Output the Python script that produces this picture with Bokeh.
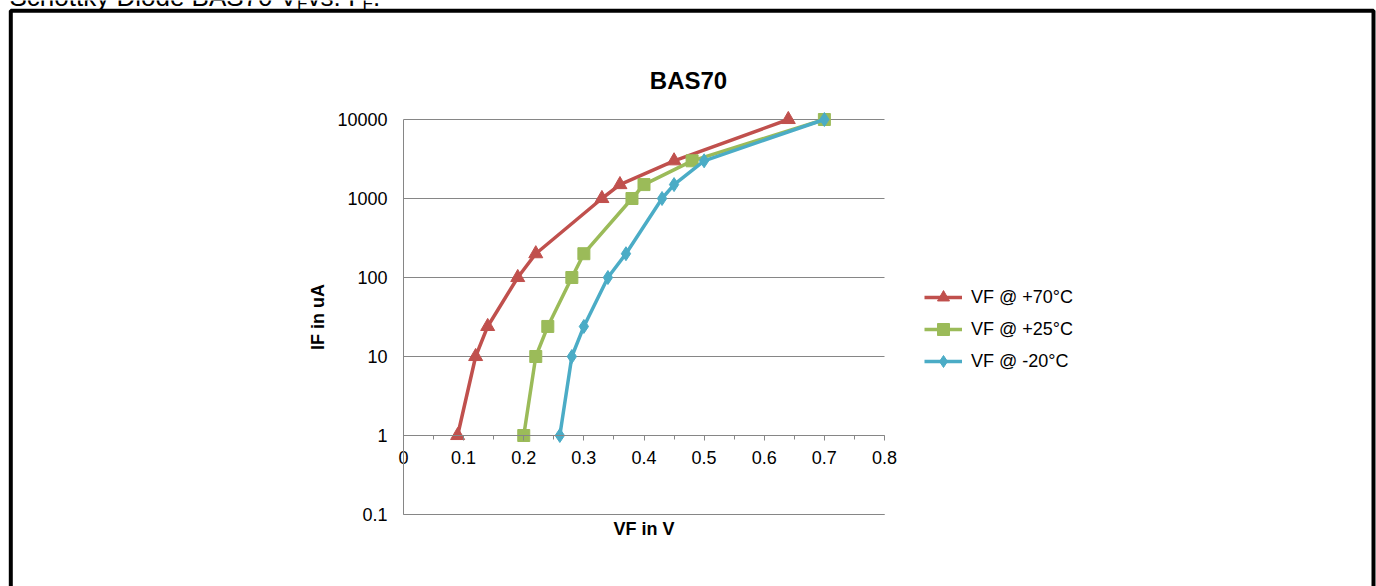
from bokeh.plotting import figure
from bokeh.models import (Range1d, FixedTicker, Label, BoxAnnotation, LinearAxis,
                          LogAxis)
from bokeh.embed import file_html
from bokeh.resources import INLINE

# ---- data ----
if_ua = [1, 10, 24, 100, 200, 1000, 1500, 3000, 10000]
vf_p70 = [0.09, 0.12, 0.14, 0.19, 0.22, 0.33, 0.36, 0.45, 0.64]
vf_p25 = [0.20, 0.22, 0.24, 0.28, 0.30, 0.38, 0.40, 0.48, 0.70]
vf_m20 = [0.26, 0.28, 0.30, 0.34, 0.37, 0.43, 0.45, 0.50, 0.70]
series_names = ["VF @ +70°C", "VF @ +25°C", "VF @ -20°C"]
series_colors = ["#C0504D", "#9BBB59", "#4BACC6"]
series_markers = ["triangle", "square", "diamond"]
series_sizes = [14, 12, 14]

x_ticks = [0.0, 0.1, 0.2, 0.3, 0.4, 0.5, 0.6, 0.7, 0.8]
x_tick_labels = ["0", "0.1", "0.2", "0.3", "0.4", "0.5", "0.6", "0.7", "0.8"]
x_minor_ticks = [0.05, 0.15, 0.25, 0.35, 0.45, 0.55, 0.65, 0.75]
y_ticks = [0.1, 1, 10, 100, 1000, 10000]
y_tick_labels = ["0.1", "1", "10", "100", "1000", "10000"]
x_lo, x_hi = 0.0, 0.8
y_lo, y_hi = 0.1, 10000
x_cross = 1  # x axis crosses the value axis at IF = 1

# ---- layout (pixels) ----
W, H = 1376, 586
PL, PR, PT, PB = 403, 884, 119, 514
FONT = "Liberation Sans"
GRID = "#868686"

xpp = (x_hi - x_lo) / (PR - PL)
dpp = 5.0 / (PB - PT)
x_range = Range1d(x_lo - PL * xpp, x_hi + (W - PR) * xpp)
y_range = Range1d(10 ** (-1 - (H - PB) * dpp), 10 ** (4 + PT * dpp))

p = figure(width=W, height=H, output_backend="svg", toolbar_location=None,
           y_axis_type="log", x_range=x_range, y_range=y_range,
           x_axis_location=None, y_axis_location=None,
           min_border=0, min_border_left=0, min_border_right=0,
           min_border_top=0, min_border_bottom=0)
p.title.visible = False
p.outline_line_color = None
p.background_fill_color = "white"
p.border_fill_color = "white"
p.xgrid.visible = False
p.ygrid.visible = False

# horizontal gridlines of the plot area
p.segment(x0=[x_lo] * len(y_ticks), x1=[x_hi] * len(y_ticks), y0=y_ticks, y1=y_ticks,
          line_color=GRID, line_width=1)

# x axis crossing at IF = 1
xa = LinearAxis(fixed_location=x_cross, bounds=(x_lo, x_hi),
                ticker=FixedTicker(ticks=x_ticks, minor_ticks=x_minor_ticks))
xa.major_label_overrides = {t: l for t, l in zip(x_ticks, x_tick_labels)}
xa.axis_line_color = GRID
xa.major_tick_line_color = GRID
xa.minor_tick_line_color = GRID
xa.major_tick_in = 0
xa.major_tick_out = 5
xa.minor_tick_in = 0
xa.minor_tick_out = 4
xa.major_label_standoff = 10
xa.major_label_text_font = FONT
xa.major_label_text_font_size = "18px"
xa.major_label_text_color = "black"
p.add_layout(xa, "below")

# bottom edge of the plot area, carrying the axis title
xb = LinearAxis(fixed_location=y_lo, bounds=(x_lo, x_hi),
                ticker=FixedTicker(ticks=[], minor_ticks=[]))
xb.axis_line_color = GRID
xb.major_tick_line_color = None
xb.minor_tick_line_color = None
xb.major_label_text_font_size = "0px"
xb.axis_label = "VF in V"
xb.axis_label_standoff = 4
xb.axis_label_text_font = FONT
xb.axis_label_text_font_size = "18px"
xb.axis_label_text_font_style = "bold"
xb.axis_label_text_color = "black"
p.add_layout(xb, "below")

# y axis
ya = LogAxis(fixed_location=x_lo, bounds=(y_lo, y_hi),
             ticker=FixedTicker(ticks=y_ticks, minor_ticks=[]))
ya.major_label_overrides = {t: l for t, l in zip(y_ticks, y_tick_labels)}
ya.axis_line_color = GRID
ya.major_tick_in = 0
ya.major_tick_out = 0
ya.minor_tick_line_color = None
ya.major_label_standoff = 16
ya.major_label_text_font = FONT
ya.major_label_text_font_size = "18px"
ya.major_label_text_color = "black"
ya.axis_label = "IF in uA"
ya.axis_label_text_font = FONT
ya.axis_label_text_font_size = "18px"
ya.axis_label_text_font_style = "bold"
ya.axis_label_text_color = "black"
ya.axis_label_standoff = 6
p.add_layout(ya, "left")

# series
for xs, name, col, mk, sz in zip([vf_p70, vf_p25, vf_m20], series_names,
                                 series_colors, series_markers, series_sizes):
    p.line(xs, if_ua, line_color=col, line_width=3.5, legend_label=name)
    p.scatter(xs, if_ua, marker=mk, size=sz, fill_color=col, line_color=col,
              legend_label=name)

lg = p.legend[0]
lg.location = (924, H - 376)
lg.border_line_color = None
lg.background_fill_alpha = 0
lg.padding = 0
lg.margin = 0
lg.spacing = 2
lg.glyph_width = 38
lg.glyph_height = 30
lg.label_height = 30
lg.label_standoff = 9
lg.label_text_font = FONT
lg.label_text_font_size = "18px"
lg.label_text_color = "black"

# chart title
p.add_layout(Label(x=688, y=79.5, x_units="canvas", y_units="canvas", text="BAS70",
                   text_align="center", text_baseline="alphabetic",
                   text_font=FONT, text_font_size="24px", text_font_style="bold",
                   text_color="black"))

# caption above the chart box (mostly cut off at the top)
cap_parts = [("Schottky Diode BAS70 V", 9, -4.0, "26px"), ("F", 296.6, 3.0, "17px"),
             (" vs. I", 307.0, -4.0, "26px"), ("F", 362.0, 3.0, "17px"),
             (".", 372.4, -4.0, "26px")]
for txt, cx, cy, fs in cap_parts:
    p.add_layout(Label(x=cx, y=cy, x_units="canvas", y_units="canvas", text=txt,
                       text_align="left", text_baseline="alphabetic",
                       text_font=FONT, text_font_size=fs, text_color="black"))

# outer chart box
p.add_layout(BoxAnnotation(left=10.3, right=1373, top=10.3, bottom=640,
                           left_units="canvas", right_units="canvas",
                           top_units="canvas", bottom_units="canvas",
                           fill_alpha=0, line_color="black", line_width=4,
                           line_alpha=1))

open("out.html", "w").write(file_html(p, INLINE))
